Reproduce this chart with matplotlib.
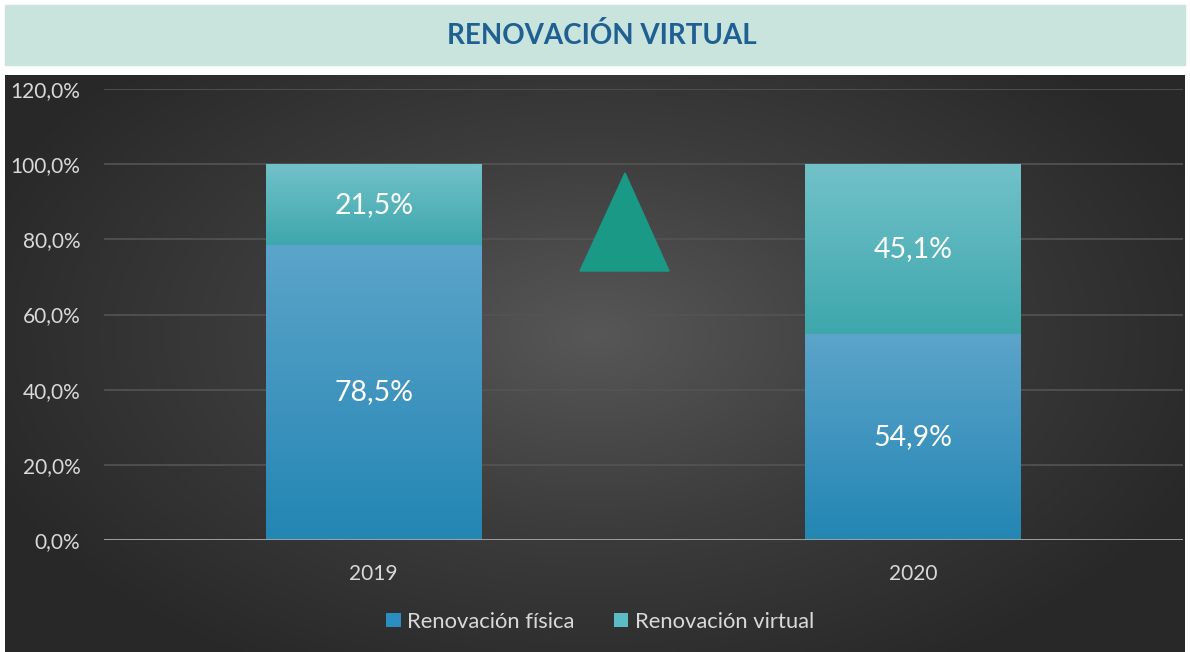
import numpy as np
import matplotlib
matplotlib.use("Agg")
from matplotlib import pyplot as plt
from matplotlib.colors import LinearSegmentedColormap
from matplotlib.patches import Rectangle, Polygon

# data
years = ["2019", "2020"]
fisica = [78.5, 54.9]
virtual = [21.5, 45.1]
series_names = ["Renovación física", "Renovación virtual"]
yticks = [0, 20, 40, 60, 80, 100, 120]
title = "RENOVACIÓN VIRTUAL"

plt.rcParams['font.family'] = ['Lato', 'DejaVu Sans']

fig = plt.figure(figsize=(11.9, 6.52), dpi=100)
fig.patch.set_facecolor("white")

# title banner
fig.patches.append(Rectangle((5/1190, 587/652), 1180/1190, 60/652,
                             transform=fig.transFigure, color="#c8e4dc", zorder=0))
fig.text(0.506, 617/652, title, ha="center", va="center", fontsize=20,
         fontweight="bold", color="#1f5f92")

# dark panel with radial gradient
bg = fig.add_axes([5/1190, 0, 1180/1190, 577/652], zorder=0)
yy, xx = np.mgrid[0:1:300j, 0:1:600j]
r = np.sqrt(((xx - 0.5) / 0.75) ** 2 + ((yy - 0.45) / 0.9) ** 2)
bg_cmap = LinearSegmentedColormap.from_list("bg", ["#575757", "#3c3c3c", "#282828"])
bg.imshow(r, cmap=bg_cmap, aspect="auto", extent=(0, 1, 0, 1), vmin=0, vmax=0.75)
bg.axis("off")

ax = fig.add_axes([104/1190, 112/652, 1079/1190, 451/652], zorder=1)
ax.patch.set_alpha(0)
x = np.arange(len(years))
w = 0.40

b1 = ax.bar(x, fisica, w, color="#2a8fc0", label=series_names[0], zorder=2)
b2 = ax.bar(x, virtual, w, bottom=fisica, color="#5bbcc6", label=series_names[1], zorder=2)

grad_f = LinearSegmentedColormap.from_list("gf", ["#2386b3", "#5ca4ca"])
grad_v = LinearSegmentedColormap.from_list("gv", ["#3ea7ad", "#72c1c9"])
g = np.linspace(0, 1, 100).reshape(-1, 1)
for bars, cm in [(b1, grad_f), (b2, grad_v)]:
    for p in bars:
        x0, y0 = p.get_x(), p.get_y()
        im = ax.imshow(g, cmap=cm, origin="lower", aspect="auto", zorder=2.5,
                       extent=(x0, x0 + p.get_width(), y0, y0 + p.get_height()))
        im.set_clip_path(p)

for i in range(len(years)):
    ax.text(x[i], fisica[i] / 2, f"{fisica[i]:.1f}%".replace(".", ","),
            ha="center", va="center", color="white", fontsize=20.5, zorder=4)
    ax.text(x[i], fisica[i] + virtual[i] / 2, f"{virtual[i]:.1f}%".replace(".", ","),
            ha="center", va="center", color="white", fontsize=20.5, zorder=4)

ax.set_xlim(-0.5, len(years) - 0.5)
ax.set_ylim(0, 120)
ax.set_yticks(yticks)
ax.set_yticklabels([f"{v:.1f}%".replace(".", ",") for v in yticks])
ax.set_xticks(x)
ax.set_xticklabels(years)
ax.tick_params(colors="#d9d9d9", labelsize=15, length=0)
ax.tick_params(axis="y", pad=17)
ax.tick_params(axis="x", pad=17)
ax.grid(axis="y", color="#545454", linewidth=1.2, zorder=1)
ax.axhline(0, color="#a6a6a6", linewidth=2, zorder=3)
for s in ax.spines.values():
    s.set_visible(False)

leg = ax.legend(loc="upper center", bbox_to_anchor=(0.46, -0.115), ncol=2,
                frameon=False, fontsize=15.8, handlelength=0.65, handleheight=0.65,
                handletextpad=0.3, columnspacing=1.8, labelcolor="#d9d9d9")

# arrow decoration
fig.patches.append(Polygon([(580/1190, 381/652), (669/1190, 381/652), (625/1190, 479/652)],
                           closed=True, transform=fig.transFigure, color="#1a9a86", zorder=5))

fig.savefig("out.png", dpi=100)
